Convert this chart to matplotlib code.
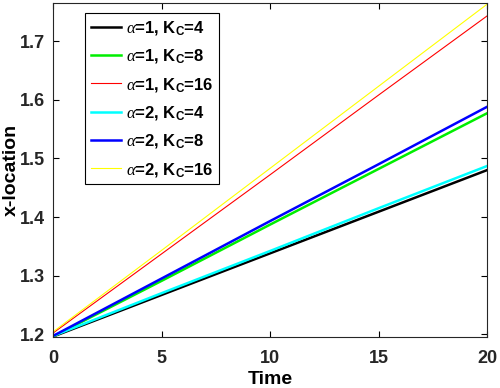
import matplotlib
matplotlib.use("Agg")
import matplotlib.pyplot as plt

plt.rcParams['font.family'] = ['Liberation Sans', 'DejaVu Sans']
plt.rcParams['mathtext.fontset'] = 'custom'
plt.rcParams['mathtext.it'] = 'Liberation Serif:italic'
plt.rcParams['mathtext.rm'] = 'Liberation Sans:bold'
plt.rcParams['mathtext.bf'] = 'Liberation Sans:bold'

time = [0, 5, 10, 15, 20]
a1_k4 = [1.196, 1.267, 1.338, 1.409, 1.480]
a1_k8 = [1.196, 1.291, 1.387, 1.482, 1.577]
a1_k16 = [1.202, 1.337, 1.472, 1.608, 1.743]
a2_k4 = [1.197, 1.270, 1.342, 1.415, 1.487]
a2_k8 = [1.197, 1.295, 1.393, 1.490, 1.588]
a2_k16 = [1.204, 1.343, 1.483, 1.623, 1.763]

series = [a1_k4, a1_k8, a1_k16, a2_k4, a2_k8, a2_k16]
labels = [r'$\alpha$=1, K$_\mathrm{C}$=4', r'$\alpha$=1, K$_\mathrm{C}$=8',
          r'$\alpha$=1, K$_\mathrm{C}$=16', r'$\alpha$=2, K$_\mathrm{C}$=4',
          r'$\alpha$=2, K$_\mathrm{C}$=8', r'$\alpha$=2, K$_\mathrm{C}$=16']
colors = ['black', '#00ee00', 'red', 'cyan', 'blue', 'yellow']
widths = [1.8, 1.8, 0.8, 1.8, 1.8, 0.8]

fig = plt.figure(figsize=(5, 3.88), dpi=100)
ax = fig.add_axes([0.106, 0.131, 0.868, 0.861])
for y, lab, c, w in zip(series, labels, colors, widths):
    ax.plot(time, y, color=c, lw=w, label=lab)

ax.set_xlim(0, 20)
ax.set_ylim(1.195, 1.765)
ax.set_xticks([0, 5, 10, 15, 20])
ax.set_yticks([1.2, 1.3, 1.4, 1.5, 1.6, 1.7])
ax.set_yticklabels(['1.2', '1.3', '1.4', '1.5', '1.6', '1.7'])
ax.tick_params(direction='in', length=4, width=0.8, labelsize=13, top=True, right=True)
ax.tick_params(axis='x', pad=9.5)
ax.tick_params(axis='y', pad=6)
for lbl in ax.get_xticklabels() + ax.get_yticklabels():
    lbl.set_fontweight('bold')
    lbl.set_color('#262626')
for s in ax.spines.values():
    s.set_linewidth(0.8)
    s.set_color('#262626')

ax.set_xlabel('Time', fontsize=14, fontweight='bold')
ax.xaxis.set_label_coords(0.5, -0.1)
ax.set_ylabel('x-location', fontsize=14, fontweight='bold')
ax.yaxis.set_label_coords(-0.077, 0.5)

leg = ax.legend(loc='upper left', bbox_to_anchor=(0.074, 0.97),
                prop={'weight': 'bold', 'size': 12}, frameon=True, fancybox=False,
                edgecolor='black', handlelength=1.8, handletextpad=0.3,
                labelspacing=0.62, borderpad=0.35, borderaxespad=0, framealpha=1)
leg.get_frame().set_linewidth(0.8)

fig.savefig('out.png', dpi=100)
